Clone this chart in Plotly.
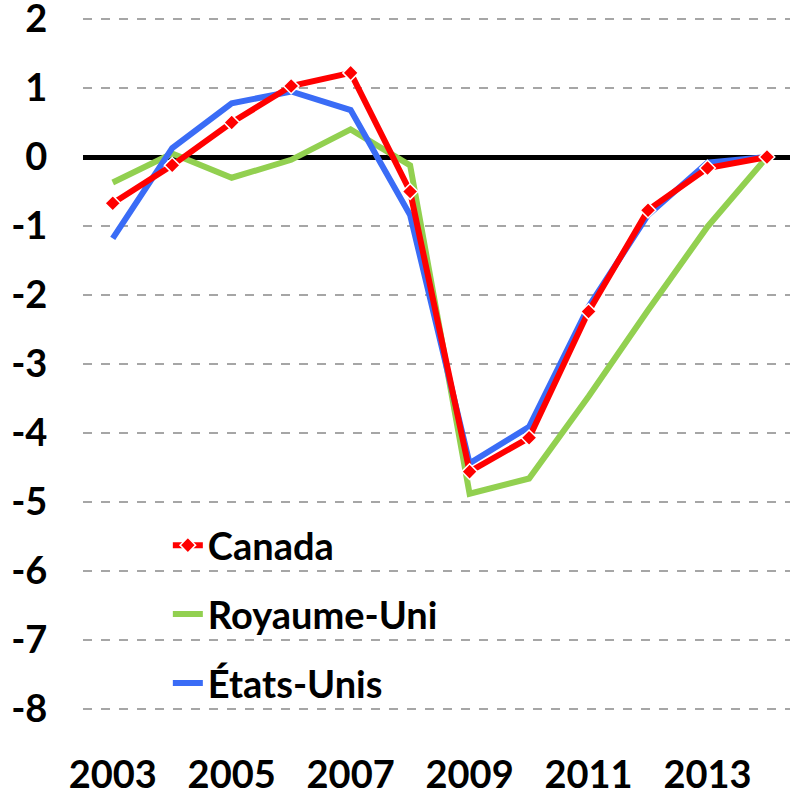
import plotly.graph_objects as go

years = list(range(2003, 2015))
canada = [-0.67, -0.12, 0.50, 1.03, 1.22, -0.50, -4.56, -4.07, -2.24, -0.77, -0.16, 0.0]
royaume_uni = [-0.37, 0.05, -0.30, -0.04, 0.40, -0.12, -4.88, -4.66, -3.47, -2.22, -1.01, 0.0]
etats_unis = [-1.18, 0.13, 0.78, 0.95, 0.68, -0.84, -4.44, -3.91, -2.17, -0.84, -0.08, 0.0]
x_ticks = [2003, 2005, 2007, 2009, 2011, 2013]
y_ticks = [2, 1, 0, -1, -2, -3, -4, -5, -6, -7, -8]
y_labels = [str(v) for v in y_ticks]

FONT = "Lato"

fig = go.Figure()
fig.add_trace(go.Scatter(
    x=years, y=royaume_uni, name="Royaume-Uni", mode="lines",
    line=dict(color="#92d050", width=6), legend="legend2", showlegend=True))
fig.add_trace(go.Scatter(
    x=years, y=etats_unis, name="États-Unis", mode="lines",
    line=dict(color="#3a6cf6", width=6), legend="legend3", showlegend=True))
fig.add_trace(go.Scatter(
    x=years, y=canada, name="Canada", mode="lines+markers",
    line=dict(color="#ff0000", width=6),
    marker=dict(symbol="diamond", size=12, color="#ff0000", line=dict(color="white", width=1.5)),
    legend="legend", showlegend=True))

leg_common = dict(bgcolor="rgba(0,0,0,0)", font=dict(family=FONT, size=38, color="black", weight="bold"),
                  xanchor="left", yanchor="middle", itemwidth=30)
fig.update_layout(
    width=790, height=792,
    showlegend=True,
    margin=dict(l=83.3, r=0, t=16.9, b=80.9),
    plot_bgcolor="white", paper_bgcolor="white",
    font=dict(family=FONT, size=38, color="black", weight="bold"),
    legend=dict(x=0.12, y=(-5.63 + 8.03) / 10.06, **leg_common),
    legend2=dict(x=0.12, y=(-6.63 + 8.03) / 10.06, **leg_common),
    legend3=dict(x=0.12, y=(-7.63 + 8.03) / 10.06, **leg_common),
    xaxis=dict(range=[2002.5, 2014.387], tickvals=x_ticks, showgrid=False,
               showline=False, zeroline=False, ticks="outside", ticklen=30,
               tickcolor="rgba(255,255,255,0)", automargin=False,
               ticklabeloverflow="allow",
               tickfont=dict(family=FONT, size=38, color="black", weight="bold")),
    yaxis=dict(range=[-8.03, 2.03], tickvals=y_ticks, ticktext=y_labels, showgrid=True,
               gridcolor="#a6a6a6", griddash="dash", gridwidth=1.5,
               zeroline=True, zerolinecolor="black", zerolinewidth=5,
               showline=False, ticks="outside", ticklen=27,
               tickcolor="rgba(255,255,255,0)", automargin=False,
               ticklabeloverflow="allow",
               tickfont=dict(family=FONT, size=38, color="black", weight="bold")),
)

fig.write_html("out.html", config={"displayModeBar": False},
               post_script="document.body.style.margin='0';")
